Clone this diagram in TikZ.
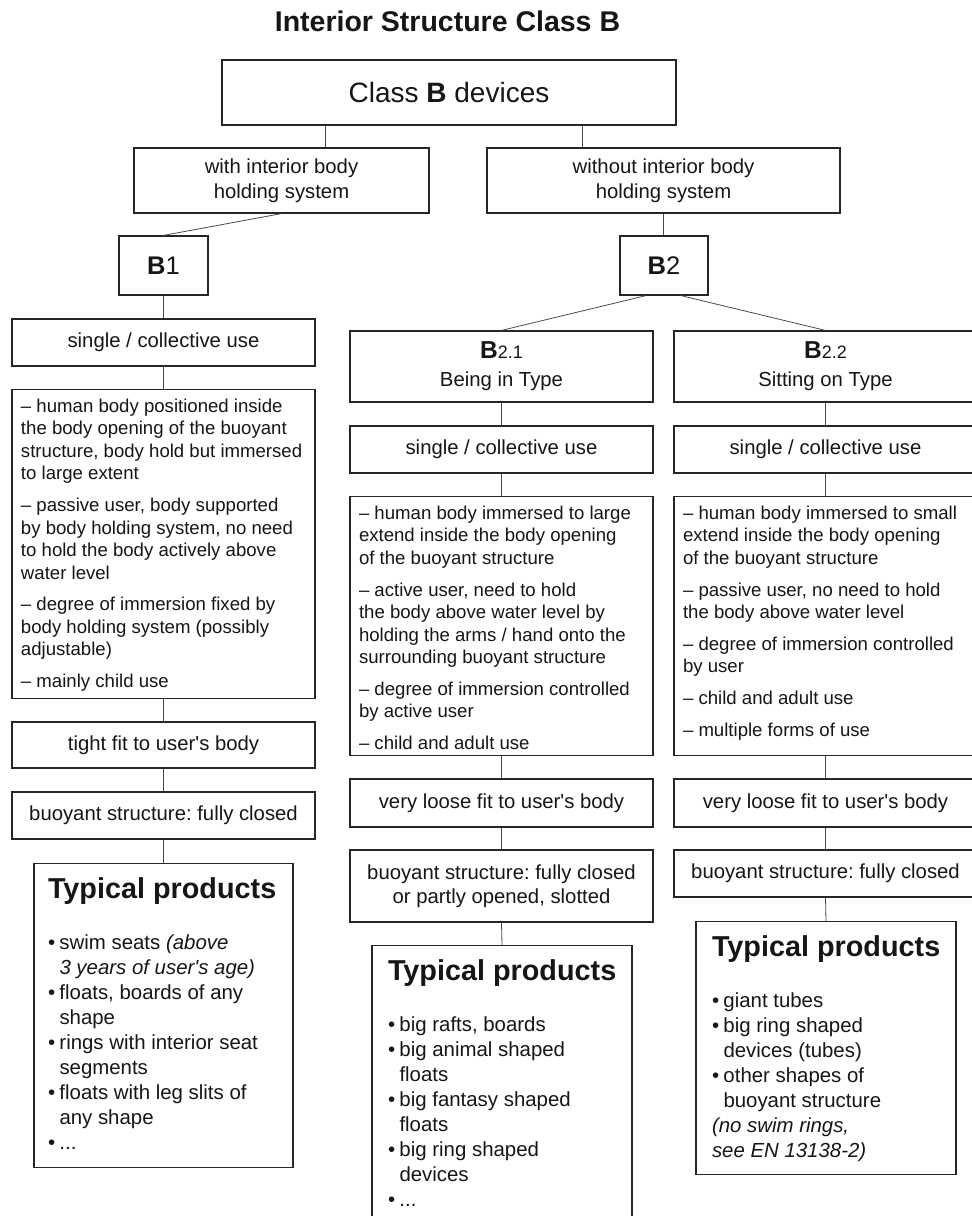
\documentclass[tikz,border=0pt]{standalone}
\usepackage{fontspec}
\setmainfont{Liberation Sans}
\usetikzlibrary{calc}
\frenchspacing
\definecolor{boxc}{HTML}{262626}
\definecolor{linec}{HTML}{4a4a4a}
\definecolor{txtc}{HTML}{161616}
\newcommand\fsN{\fontsize{20.3}{25}\selectfont}
\newcommand\fsD{\fontsize{18.6}{22.5}\selectfont}
\newcommand\fsI{\fontsize{20.4}{25}\selectfont}
\newcommand\fsH{\fontsize{28.8}{30}\selectfont\bfseries}
\newcommand\tpbul{\makebox[11.5pt][l]{•}}
\newcommand\tpind{\hspace*{11.5pt}}
\newcommand\us{user\textquotesingle s}
\begin{document}
\begin{tikzpicture}[x=1pt,y=-1pt,
  box/.style={draw=boxc, line width=1.2pt, fill=white, inner sep=0pt, align=center, text=txtc, font=\fsN},
  conn/.style={draw=linec, line width=0.8pt},
  colbox/.style={box, minimum width=303},
  descbox/.style={box, anchor=north, minimum width=303},
  prodbox/.style={box, anchor=north, minimum width=260}]
\path[use as bounding box] (0,0) rectangle (972,1216);
\clip (0,0) rectangle (972,1216);

% title
\node[font=\fontsize{28.5}{30}\selectfont\bfseries, text=txtc, anchor=base] (title) at (447.5,31) {Interior Structure Class B};

% top levels
\node[box, minimum width=454, minimum height=65, font=\fontsize{28}{30}\selectfont] (cls) at (449,92.5) {Class \textbf{B} devices};
\node[box, minimum width=295, minimum height=65] (wth) at (281.5,180.5) {with interior body\\holding system};
\node[box, minimum width=353, minimum height=65] (wo) at (663.5,180.5) {without interior body\\holding system};
\node[box, minimum width=89, minimum height=59, font=\fontsize{25.5}{28}\selectfont] (b1) at (163.5,265.5) {\textbf{B}1};
\node[box, minimum width=88, minimum height=59, font=\fontsize{25.5}{28}\selectfont] (b2) at (664,265.5) {\textbf{B}2};

% column B1
\node[colbox, minimum height=47] (s1) at (163.5,342.5) {single / collective use};
\node[descbox, minimum height=309] (d1) at (163.5,389) {\parbox[t][309pt][t]{303pt}{\fsD\raggedright\leftskip=9pt
\rule{0pt}{22.7pt}– human body positioned inside\\
the body opening of the buoyant\\
structure, body hold but immersed\\
to large extent\\[9.2pt]
– passive user, body supported\\
by body holding system, no need\\
to hold the body actively above\\
water level\\[9.2pt]
– degree of immersion fixed by\\
body holding system (possibly\\
adjustable)\\[9.2pt]
– mainly child use}};
\node[colbox, minimum height=46] (t1) at (163.5,745) {tight fit to \us{} body};
\node[colbox, minimum height=47] (u1) at (163.5,815.5) {buoyant structure: fully closed};
\node[prodbox, minimum width=259, minimum height=304] (p1) at (163.5,863) {\parbox[t][304pt][t]{259pt}{\fsI\raggedright\leftskip=14pt
\rule{0pt}{34.5pt}{\fsH Typical products}\\[26pt]
\tpbul swim seats \textit{(above}\\
\tpind\textit{3 years of \us{} age)}\\
\tpbul floats, boards of any\\
\tpind shape\\
\tpbul rings with interior seat\\
\tpind segments\\
\tpbul floats with leg slits of\\
\tpind any shape\\
\tpbul ...}};

% column B2.1
\node[colbox, minimum height=71, font=\fontsize{20.3}{28}\selectfont] (b21) at (501.5,366.5) {{\fontsize{24.5}{28}\selectfont\textbf{B}}{\fontsize{18}{28}\selectfont 2.1}\\Being in Type};
\node[colbox, minimum height=47] (s2) at (501.5,449.5) {single / collective use};
\node[descbox, minimum height=259] (d2) at (501.5,496) {\parbox[t][259pt][t]{303pt}{\fsD\raggedright\leftskip=9pt
\rule{0pt}{22.7pt}– human body immersed to large\\
extend inside the body opening\\
of the buoyant structure\\[9.2pt]
– active user, need to hold\\
the body above water level by\\
holding the arms / hand onto the\\
surrounding buoyant structure\\[9.2pt]
– degree of immersion controlled\\
by active user\\[9.2pt]
– child and adult use}};
\node[colbox, minimum height=48] (l2) at (501.5,803) {very loose fit to \us{} body};
\node[colbox, minimum height=72, font=\fontsize{20.3}{24}\selectfont] (u2) at (501.5,886) {buoyant structure: fully closed\\or partly opened, slotted};
\node[prodbox, minimum height=300] (p2) at (502,945) {\parbox[t][300pt][t]{260pt}{\fsI\raggedright\leftskip=16pt
\rule{0pt}{34.5pt}{\fsH Typical products}\\[26pt]
\tpbul big rafts, boards\\
\tpbul big animal shaped\\
\tpind floats\\
\tpbul big fantasy shaped\\
\tpind floats\\
\tpbul big ring shaped\\
\tpind devices\\
\tpbul ...}};

% column B2.2
\node[colbox, minimum height=71, font=\fontsize{20.3}{28}\selectfont] (b22) at (825.5,366.5) {{\fontsize{24.5}{28}\selectfont\textbf{B}}{\fontsize{18}{28}\selectfont 2.2}\\Sitting on Type};
\node[colbox, minimum height=47] (s3) at (825.5,449.5) {single / collective use};
\node[descbox, minimum height=259] (d3) at (825.5,496) {\parbox[t][259pt][t]{303pt}{\fsD\raggedright\leftskip=9pt
\rule{0pt}{22.7pt}– human body immersed to small\\
extend inside the body opening\\
of the buoyant structure\\[9.2pt]
– passive user, no need to hold\\
the body above water level\\[9.2pt]
– degree of immersion controlled\\
by user\\[9.2pt]
– child and adult use\\[9.2pt]
– multiple forms of use}};
\node[colbox, minimum height=48] (l3) at (825.5,803) {very loose fit to \us{} body};
\node[colbox, minimum height=47] (u3) at (825.5,873.5) {buoyant structure: fully closed};
\node[prodbox, minimum height=253] (p3) at (826,921) {\parbox[t][253pt][t]{260pt}{\fsI\raggedright\leftskip=16pt
\rule{0pt}{34.5pt}{\fsH Typical products}\\[26pt]
\tpbul giant tubes\\
\tpbul big ring shaped\\
\tpind devices (tubes)\\
\tpbul other shapes of\\
\tpind buoyant structure\\
\textit{(no swim rings,}\\
\textit{see EN 13138-2)}}};

% connectors
\coordinate (xa) at (325,0);
\coordinate (xb) at (582,0);
\draw[conn] (cls.south -| xa) -- (wth.north -| xa);
\draw[conn] (cls.south -| xb) -- (wo.north -| xb);
\draw[conn] (wth.south) -- (b1.north);
\draw[conn] (wo.south) -- (b2.north -| wo.south);
\draw[conn] ($(b2.south)+(-18,0)$) -- (b21.north);
\draw[conn] ($(b2.south)+(17,0)$) -- (b22.north);
\foreach \a/\b in {b1/s1,s1/d1,d1/t1,t1/u1,u1/p1,b21/s2,s2/d2,d2/l2,l2/u2,u2/p2,b22/s3,s3/d3,d3/l3,l3/u3,u3/p3}
  \draw[conn] (\a.south) -- (\b.north);
\end{tikzpicture}
\end{document}
